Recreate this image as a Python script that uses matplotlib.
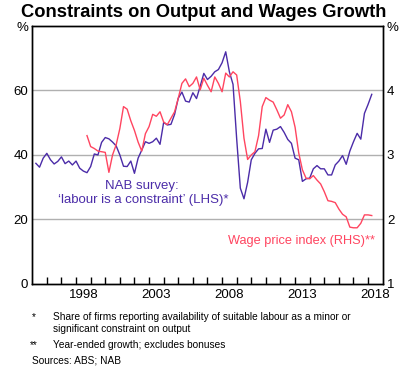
import numpy as np
import pandas as pd
import matplotlib
matplotlib.use("Agg")
import matplotlib.pyplot as plt

plt.rcParams['font.family'] = ['Liberation Sans', 'DejaVu Sans']

# NAB survey: share of firms saying labour is a constraint (%), quarterly from 1995Q1
nab_start = "1995Q1"
nab_constraint = [
    37.4, 36.2, 39.0, 40.5, 38.5, 37.2, 38.0, 39.4, 37.3, 38.1,
    36.9, 38.1, 35.9, 35.0, 34.5, 36.4, 40.3, 40.0, 43.9, 45.4,
    45.0, 44.0, 42.8, 40.0, 36.5, 36.4, 38.1, 34.3, 39.0, 41.5,
    44.1, 43.6, 44.1, 45.2, 43.3, 50.1, 49.3, 49.5, 52.6, 57.6,
    59.5, 56.7, 56.4, 59.3, 57.5, 61.3, 65.3, 63.4, 64.4, 65.8,
    66.5, 68.6, 72.0, 65.8, 61.9, 45.0, 29.7, 26.4, 31.5, 38.5,
    40.5, 41.9, 42.0, 48.0, 43.9, 47.7, 48.0, 48.8, 47.0, 44.8,
    43.6, 39.0, 38.5, 31.8, 32.6, 32.8, 35.7, 36.7, 35.7, 35.7,
    33.8, 33.8, 36.9, 38.1, 39.8, 37.1, 41.2, 44.1, 46.7, 44.9,
    52.9, 55.7, 58.8,
]

# Wage price index, year-ended growth (%), quarterly from 1998Q3
wpi_start = "1998Q3"
wpi_growth = [
    3.30, 3.13, 3.10, 3.06, 3.05, 3.04, 2.73, 3.00, 3.16, 3.41,
    3.75, 3.71, 3.53, 3.38, 3.20, 3.06, 3.33, 3.44, 3.63, 3.60,
    3.67, 3.51, 3.47, 3.57, 3.67, 3.88, 4.11, 4.18, 4.06, 4.11,
    4.21, 4.01, 4.19, 4.08, 3.98, 4.21, 4.11, 3.98, 4.27, 4.21,
    4.29, 4.24, 3.83, 3.26, 2.93, 3.00, 3.05, 3.30, 3.75, 3.89,
    3.85, 3.82, 3.70, 3.57, 3.62, 3.78, 3.67, 3.43, 3.03, 2.77,
    2.64, 2.63, 2.68, 2.61, 2.55, 2.43, 2.29, 2.28, 2.26, 2.16,
    2.08, 2.04, 1.88, 1.87, 1.87, 1.94, 2.07, 2.07, 2.06,
]

year_labels = [1998, 2003, 2008, 2013, 2018]
left_ticks = [0, 20, 40, 60, 80]
right_ticks = [1, 2, 3, 4, 5]


def decimal_year(start, n):
    q = pd.period_range(start, periods=n, freq="Q")
    return q.year + q.quarter / 4.0


nab_x = decimal_year(nab_start, len(nab_constraint))
wpi_x = decimal_year(wpi_start, len(wpi_growth))

blue = "#4b2ca8"
red = "#ff4560"

fig = plt.figure(figsize=(4.08, 3.77), dpi=100)
ax = fig.add_axes([0.079, 0.247, 0.859, 0.684])
ax2 = ax.twinx()

ax.set_xlim(1995, 2019)
ax.set_ylim(0, 80)
ax2.set_ylim(1, 5)

for y in [20, 40, 60]:
    ax.axhline(y, color="#b0b0b0", lw=1, zorder=0)

ax.plot(nab_x, nab_constraint, color=blue, lw=1, zorder=3)
ax2.plot(wpi_x, wpi_growth, color=red, lw=1, zorder=2)

ax.set_yticks(left_ticks)
ax.set_yticklabels(["0", "20", "40", "60", "%"])
ax2.set_yticks(right_ticks)
ax2.set_yticklabels(["1", "2", "3", "4", "%"])
ax.tick_params(axis="y", length=0, labelsize=9.5, pad=3)
ax2.tick_params(axis="y", length=0, labelsize=9.5, pad=3)

ax.set_xticks(np.arange(1996, 2019))
ax.set_xticklabels([])
ax.set_xticks([y + 0.5 for y in year_labels], minor=True)
ax.set_xticklabels([str(y) for y in year_labels], minor=True)
ax.tick_params(axis="x", which="major", direction="in", length=5, width=1)
ax.tick_params(axis="x", which="minor", length=0, labelsize=9.5, pad=4)
ax2.tick_params(axis="x", which="both", length=0)

for a in (ax, ax2):
    for s in a.spines.values():
        s.set_linewidth(1)
        s.set_color("black")

ax.text(2002.5, 30.3, "NAB survey:", color=blue, fontsize=9.5, ha="center", va="center")
ax.text(2002.6, 26.0, "\u2018labour is a constraint\u2019 (LHS)*", color=blue,
        fontsize=9.5, ha="center", va="center")
ax.text(2013.45, 13.4, "Wage price index (RHS)**", color=red, fontsize=9.2,
        ha="center", va="center")

fig.text(0.5, 0.968, "Constraints on Output and Wages Growth", fontsize=13.2,
         fontweight="bold", ha="center", va="center")

fs = 7.3
fig.text(0.078, 0.158, "*", fontsize=fs, va="center")
fig.text(0.13, 0.158, "Share of firms reporting availability of suitable labour as a minor or",
         fontsize=fs, va="center")
fig.text(0.13, 0.127, "significant constraint on output", fontsize=fs, va="center")
fig.text(0.073, 0.085, "**", fontsize=fs, va="center")
fig.text(0.13, 0.085, "Year-ended growth; excludes bonuses", fontsize=fs, va="center")
fig.text(0.078, 0.043, "Sources: ABS; NAB", fontsize=fs, va="center")

fig.savefig("out.png", dpi=100)
